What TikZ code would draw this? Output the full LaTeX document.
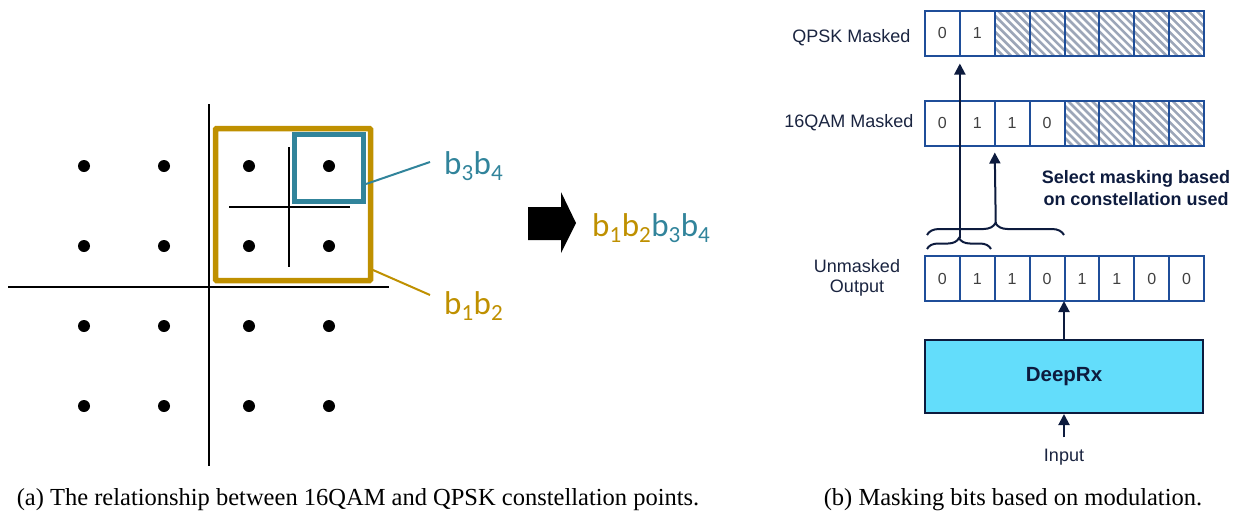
\documentclass[tikz,border=0pt]{standalone}
\usepackage{fontspec}
\setmainfont{Liberation Serif}
\newfontfamily\arialf{Liberation Sans}
\newfontfamily\calib{Carlito}
\usetikzlibrary{arrows.meta,decorations.pathreplacing}
\definecolor{goldc}{HTML}{BF9000}
\definecolor{tealc}{HTML}{31849B}
\definecolor{cellblue}{HTML}{1F4E99}
\definecolor{navy}{HTML}{0D1B3E}
\definecolor{cyanbox}{HTML}{63DDFB}
\definecolor{hatchgray}{HTML}{9CA6B8}
\definecolor{textc}{HTML}{1A2440}
\tikzset{
  cell/.style={draw=cellblue, line width=2pt, minimum width=34.875pt, minimum height=45pt,
    inner sep=0pt, outer sep=0pt, font=\arialf\fontsize{16}{18}\selectfont, text=black!75},
  hcell/.style={cell, path picture={
    \foreach \k in {-7,...,5}{\draw[hatchgray,line width=2.6pt] ([xshift=\k*8pt+3pt]path picture bounding box.north west) -- ++(60pt,-60pt);}}},
  arr/.style={navy, line width=2pt, -{Triangle[length=11pt,width=11pt]}},
  brc/.style={navy, line width=2pt, decorate},
  lbl/.style={font=\arialf\fontsize{18}{21}\selectfont, text=textc},
  clbl/.style={font=\calib\fontsize{33}{36}\selectfont, anchor=west, inner sep=0pt},
  axis/.style={black, line width=2pt},
  dot/.style={black},
  capt/.style={font=\fontsize{24.5}{28}\selectfont, inner sep=0pt}
}
\begin{document}
\begin{tikzpicture}[x=1pt,y=-1pt]
\useasboundingbox (0,0) rectangle (1240,512);
% ---------- left figure ----------
\draw[axis] (209,104) -- (209,466);
\draw[axis] (8,287) -- (389,287);
\foreach \xx in {84,164,249,329}
  \foreach \yy in {166,246,326,406}
    \fill[dot] (\xx,\yy) circle (6pt);
\draw[axis] (289,147) -- (289,267);
\draw[axis] (229,207) -- (350,207);
\draw[goldc, line width=5.5pt, rounded corners=1pt] (215.5,128.5) rectangle (370.5,280.5);
\draw[tealc, line width=5.5pt] (294.5,134.5) rectangle (363.5,201.5);
\node[clbl, text=tealc] (l34) at (444,166) {b\textsubscript{3}b\textsubscript{4}};
\node[clbl, text=goldc] (l12) at (444,306) {b\textsubscript{1}b\textsubscript{2}};
\draw[tealc, line width=2pt] (366,184) -- (430,162);
\draw[goldc, line width=2pt] (373,270) -- (430,295);
\fill (528,207) -- (561,207) -- (561,192) -- (576,223) -- (561,253) -- (561,240) -- (528,240) -- cycle;
\node[clbl] (lall) at (592,228) {\textcolor{goldc}{b\textsubscript{1}b\textsubscript{2}}\textcolor{tealc}{b\textsubscript{3}b\textsubscript{4}}};
% ---------- right figure ----------
\foreach \i/\t in {1/0,2/1}
  \node[cell] (q\i) at ({925+34.875*(\i-0.5)},33) {\t};
\foreach \i in {3,...,8}
  \node[hcell] (q\i) at ({925+34.875*(\i-0.5)},33) {};
\foreach \i/\t in {1/0,2/1,3/1,4/0}
  \node[cell] (m\i) at ({925+34.875*(\i-0.5)},123) {\t};
\foreach \i in {5,...,8}
  \node[hcell] (m\i) at ({925+34.875*(\i-0.5)},123) {};
\foreach \i/\t in {1/0,2/1,3/1,4/0,5/1,6/1,7/0,8/0}
  \node[cell] (u\i) at ({925+34.875*(\i-0.5)},278.5) {\t};
\node[lbl, anchor=east] (lq) at (914,38) {QPSK Masked};
\node[lbl, anchor=east] (lm) at (917,123) {16QAM Masked};
\node[lbl, align=center] (lu) at (857,278) {Unmasked\\[-1pt]Output};
\draw[brc, decoration={brace, amplitude=11pt}] (927,249) -- (991,249);
\draw[brc, decoration={brace, amplitude=12pt}] (927,235) -- (1064,235);
\coordinate (b1tip) at (959.875,238);
\coordinate (b2tip) at (995.75,223);
\draw[arr] (b1tip) -- ([yshift=-8pt]q2.south west);
\draw[arr] (b2tip) -- ([yshift=-7pt]m3.south west);
\node[font=\arialf\bfseries\fontsize{18}{22}\selectfont, text=navy, align=center] (sel) at (1136,188) {Select masking based\\on constellation used};
\node[draw=navy, line width=2pt, fill=cyanbox, minimum width=278pt, minimum height=73pt,
  font=\arialf\bfseries\fontsize{20.5}{23}\selectfont, text=navy] (dr) at (1064,376.5) {DeepRx};
\draw[arr] (dr.north) -- (dr.north |- u5.south);
\node[lbl] (in) at (1064,457) {Input};
\draw[arr] ([yshift=8pt]in.north) -- (dr.south);
% ---------- captions ----------
\node[capt] (capa) at (358,500) {(a) The relationship between 16QAM and QPSK constellation points.};
\node[capt] (capb) at (1013,500) {(b) Masking bits based on modulation.};
\end{tikzpicture}
\end{document}
